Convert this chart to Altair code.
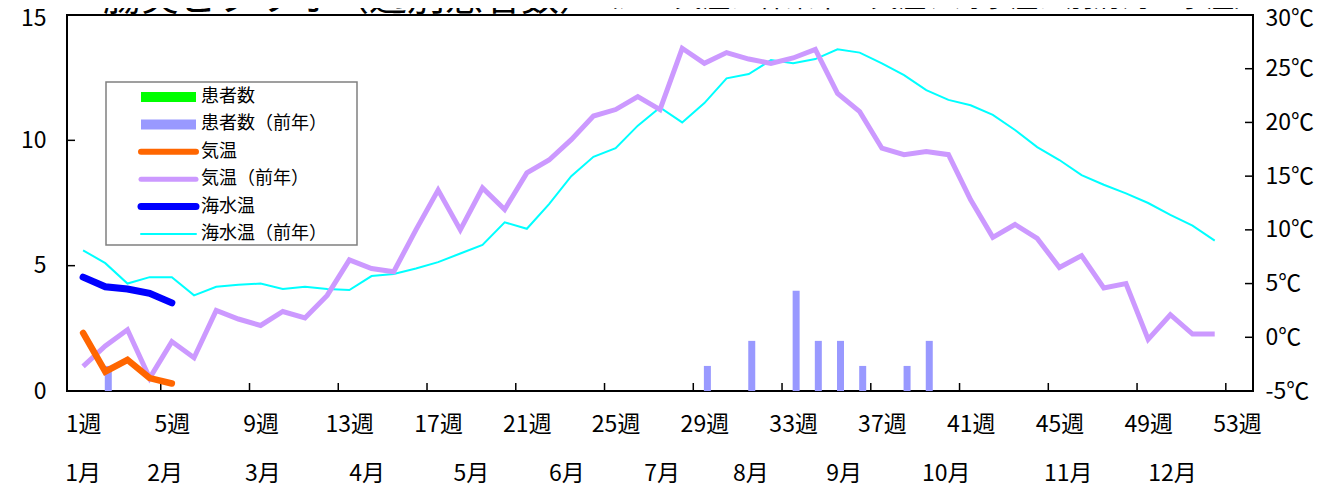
import altair as alt
import pandas as pd

# ---------------- data ----------------
weeks_prev = list(range(1, 53))
sea_prev = [8.1, 6.9, 5.0, 5.6, 5.6, 3.9, 4.7, 4.9, 5.0, 4.5, 4.7, 4.5, 4.4, 5.7, 5.9, 6.4,
            7.0, 7.8, 8.6, 10.7, 10.1, 12.4, 15.0, 16.8, 17.6, 19.7, 21.4, 20.0, 21.8, 24.1,
            24.5, 25.8, 25.5, 25.9, 26.8, 26.5, 25.5, 24.4, 23.0, 22.1, 21.6, 20.7, 19.3,
            17.7, 16.5, 15.1, 14.2, 13.4, 12.5, 11.4, 10.4, 9.0]
air_prev = [-2.7, -0.8, 0.7, -3.8, -0.4, -1.9, 2.5, 1.7, 1.1, 2.4, 1.8, 3.9, 7.2, 6.4, 6.1,
            10.0, 13.7, 10.0, 13.9, 11.9, 15.3, 16.5, 18.4, 20.6, 21.2, 22.4, 21.2, 26.9,
            25.5, 26.5, 25.9, 25.5, 26.0, 26.8, 22.7, 21.0, 17.6, 17.0, 17.3, 17.0, 12.8,
            9.3, 10.5, 9.2, 6.5, 7.6, 4.6, 5.0, -0.2, 2.1, 0.3, 0.3]
weeks_this = [1, 2, 3, 4, 5]
air_this = [0.4, -3.2, -2.1, -3.8, -4.3]
sea_this = [5.6, 4.7, 4.5, 4.1, 3.2]
bar_weeks = [2, 29, 31, 33, 34, 35, 36, 38, 39]
bar_prev = [1, 1, 2, 4, 2, 2, 1, 1, 2]

week_ticks = list(range(1, 54, 4))
left_ticks = [0, 5, 10, 15]
right_ticks = [-5, 0, 5, 10, 15, 20, 25, 30]
month_labels = ["1月", "2月", "3月", "4月", "5月", "6月", "7月", "8月", "9月", "10月", "11月", "12月"]
month_pos = [1.0, 4.7, 9.1, 13.8, 18.5, 22.8, 27.1, 31.1, 35.3, 39.9, 45.4, 50.1]

title_text = ["腸炎ビブリオ（週別患者数）"]
note_text = ["（注：気温は杵築市の気温、海水温は別府湾の水温）"]

legend_labels = ["患者数", "患者数（前年）", "気温", "気温（前年）", "海水温", "海水温（前年）"]
legend_colors = ["#00FF00", "#9999FF", "#FF6600", "#CC99FF", "#0000FF", "#00FFFF"]
legend_kind = ["bar", "bar", "line", "line", "line", "line"]
legend_width = [10, 10, 6, 5, 7, 2]

# ---------------- layout ----------------
W, H = 1186, 376
FONT = "Noto Sans CJK JP"
FS = 23

xscale = alt.Scale(domain=[0.5, 53.5], nice=False, zero=False)
yL = alt.Scale(domain=[0, 15], nice=False, zero=False)
yR = alt.Scale(domain=[-5, 30], nice=False, zero=False)

df_bars = pd.DataFrame({"week": bar_weeks, "n": bar_prev})
df_sea_prev = pd.DataFrame({"week": weeks_prev, "t": sea_prev})
df_air_prev = pd.DataFrame({"week": weeks_prev, "t": air_prev})
df_sea_this = pd.DataFrame({"week": weeks_this, "t": sea_this})
df_air_this = pd.DataFrame({"week": weeks_this, "t": air_this})
df_months = pd.DataFrame({"pos": month_pos, "label": month_labels})
df_btick = pd.DataFrame({"week": [w - 0.5 for w in week_ticks[1:]]})
df_ltick = pd.DataFrame({"n": left_ticks[1:-1]})
df_rtick = pd.DataFrame({"t": right_ticks[1:-1]})

x_axis = alt.Axis(values=week_ticks, labelExpr="datum.value + '週'", ticks=False, tickSize=0,
                  domain=False, grid=False, labelFontSize=FS, labelPadding=22, title=None,
                  labelColor="black", labelFont=FONT)
yl_axis = alt.Axis(values=left_ticks, ticks=False, tickSize=0, domain=False,
                   grid=False, labelFontSize=FS, labelPadding=21, title=None,
                   labelColor="black", labelFont=FONT,
                   labelOffset={"expr": "datum.value == 15 ? 3 : 0"})
yr_axis = alt.Axis(orient="right", values=right_ticks,
                   labelExpr="datum.value + '℃'", ticks=False, tickSize=0,
                   domain=False, grid=False, labelFontSize=FS,
                   labelPadding=12, title=None, labelColor="black", labelFont=FONT,
                   labelOffset={"expr": "datum.value == 30 ? 3 : 0"})

X = alt.X("week:Q", scale=xscale, axis=x_axis)
YL = alt.Y("n:Q", scale=yL, axis=yl_axis)
YR = alt.Y("t:Q", scale=yR, axis=yr_axis)

bars = alt.Chart(df_bars).mark_bar(size=7, color="#9999FF", xOffset=3).encode(x=X, y=YL)

btick = alt.Chart(df_btick).mark_rule(color="black", strokeWidth=1.5).encode(
    x=X, y=alt.value(H), y2=alt.value(H - 8))
ltick = alt.Chart(df_ltick).mark_rule(color="black", strokeWidth=1.5).encode(
    y=YL, x=alt.value(0), x2=alt.value(8))

months = alt.Chart(df_months).mark_text(fontSize=FS, baseline="middle", align="center",
                                         color="black", font=FONT).encode(
    x=alt.X("pos:Q", scale=xscale, axis=x_axis), y=alt.value(459), text="label:N")

# legend
n = len(legend_labels)
rows = [82 + i * 27.4 for i in range(n)]
df_leg = pd.DataFrame({"label": legend_labels, "c": legend_colors, "kind": legend_kind,
                       "sw": legend_width, "ry": rows,
                       "ry1": [r - 5 for r in rows], "ry2": [r + 5 for r in rows]})
leg_box = alt.Chart(pd.DataFrame({"a": [0]})).mark_rect(fill="white", stroke="#808080",
                                                         strokeWidth=1.5).encode(
    x=alt.value(39), x2=alt.value(290), y=alt.value(67), y2=alt.value(230))
leg_rect = alt.Chart(df_leg).transform_filter("datum.kind == 'bar'").mark_rect().encode(
    x=alt.value(74), x2=alt.value(129),
    y=alt.Y("ry1:Q", scale=None), y2="ry2:Q",
    color=alt.Color("c:N", scale=None))
leg_line = alt.Chart(df_leg).transform_filter("datum.kind == 'line'").mark_rule(strokeCap="round").encode(
    x=alt.value(74), x2=alt.value(129),
    y=alt.Y("ry:Q", scale=None),
    color=alt.Color("c:N", scale=None),
    strokeWidth=alt.StrokeWidth("sw:Q", scale=None))
leg_text = alt.Chart(df_leg).mark_text(fontSize=18, align="left", baseline="middle",
                                       color="black", font=FONT).encode(
    x=alt.value(134), y=alt.Y("ry:Q", scale=None), text="label:N")

title = alt.Chart(pd.DataFrame({"t": title_text})).mark_text(
    fontSize=38, align="left", baseline="bottom", color="black", font=FONT).encode(
    x=alt.value(36), y=alt.value(3), text="t:N")
note = alt.Chart(pd.DataFrame({"t": note_text})).mark_text(
    fontSize=28, align="left", baseline="bottom", color="black", font=FONT).encode(
    x=alt.value(523), y=alt.value(-2), text="t:N")

left_group = alt.layer(bars, btick, ltick, months, title, note)


def tline(df, color, sw, cap="butt"):
    return alt.Chart(df).mark_line(color=color, strokeWidth=sw, strokeCap=cap).encode(x=X, y=YR)


cyan = tline(df_sea_prev, "#00FFFF", 2)
purple = tline(df_air_prev, "#CC99FF", 5)
blue = tline(df_sea_this, "#0000FF", 7, "round")
orange = tline(df_air_this, "#FF6600", 6.5, "round")
rtick = alt.Chart(df_rtick).mark_rule(color="black", strokeWidth=1.5).encode(
    y=YR, x=alt.value(W), x2=alt.value(W - 8))

right_group = alt.layer(cyan, purple, blue, orange, rtick)

chart = alt.layer(left_group, right_group, leg_box, leg_rect, leg_line, leg_text).resolve_scale(
    y="independent"
).properties(
    width=W, height=H,
    autosize=alt.AutoSizeParams(type="none"),
    padding={"left": 59, "top": 7, "right": 79, "bottom": 98},
).configure(font=FONT).configure_view(stroke="black", strokeWidth=2)

chart.save("out.html", embed_options={"renderer": "svg", "actions": False})
